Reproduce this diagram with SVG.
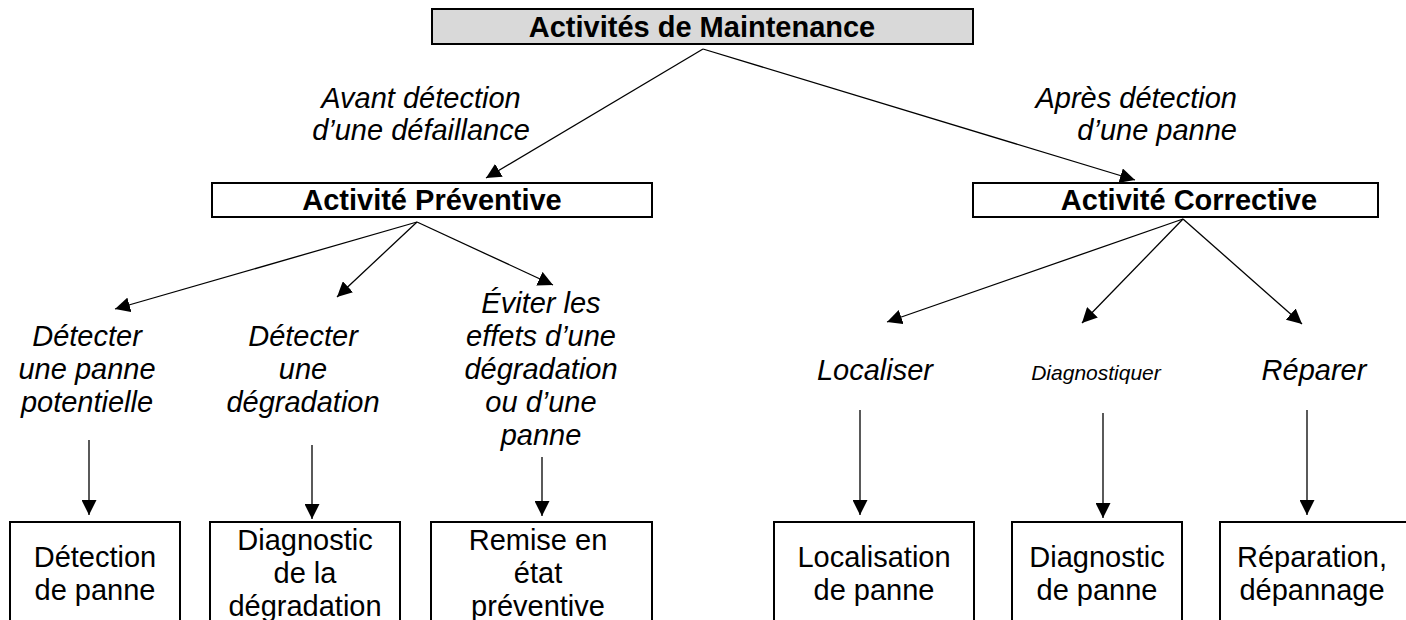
<svg xmlns="http://www.w3.org/2000/svg" width="1406" height="620" viewBox="0 0 1406 620">
<style>
.box{fill:#fff;stroke:#000;stroke-width:2}
.top{fill:#d9d9d9;stroke:#000;stroke-width:2}
.hb{font-family:"Liberation Sans",Arial,sans-serif;font-size:29px;font-weight:bold;text-anchor:middle;fill:#000}
.it{font-family:"Liberation Sans",Arial,sans-serif;font-size:29px;font-style:italic;text-anchor:middle;fill:#000}
.rg{font-family:"Liberation Sans",Arial,sans-serif;font-size:29px;text-anchor:middle;fill:#000}
.con line{stroke:#000;stroke-width:1.3;fill:none;marker-end:url(#ah)}
</style>
<defs>
<marker id="ah" viewBox="0 0 15 15" refX="15" refY="7.5" markerWidth="15" markerHeight="15" markerUnits="userSpaceOnUse" orient="auto">
<path d="M0,0 L15,7.5 L0,15 z" fill="#000"/>
</marker>
</defs>

<g id="connectors" class="con">
<line x1="703" y1="49" x2="486" y2="178"/>
<line x1="703" y1="49" x2="1135" y2="180"/>
<line x1="417" y1="222" x2="115" y2="309"/>
<line x1="417" y1="222" x2="337" y2="297"/>
<line x1="417" y1="222" x2="553" y2="285"/>
<line x1="1183" y1="219" x2="887" y2="322"/>
<line x1="1183" y1="219" x2="1082" y2="323"/>
<line x1="1183" y1="219" x2="1302" y2="324"/>
<line x1="89" y1="440" x2="89" y2="515"/>
<line x1="312" y1="445" x2="312" y2="519"/>
<line x1="542" y1="457" x2="542" y2="516"/>
<line x1="860" y1="410" x2="860" y2="515"/>
<line x1="1103" y1="413" x2="1103" y2="518"/>
<line x1="1307" y1="410" x2="1307" y2="515"/>
</g>

<g id="maintenance">
<rect class="top" x="432" y="9" width="541" height="35"/>
<text class="hb" x="702" y="37">Activités de Maintenance</text>
</g>

<g id="label-avant">
<text class="it" x="421" y="108">Avant détection</text>
<text class="it" x="421" y="140">d’une défaillance</text>
</g>

<g id="label-apres">
<text class="it" x="1237" y="108" style="text-anchor:end">Après détection</text>
<text class="it" x="1237" y="140" style="text-anchor:end">d’une panne</text>
</g>

<g id="preventive">
<rect class="box" x="212" y="183" width="440" height="34"/>
<text class="hb" x="432" y="210">Activité Préventive</text>
</g>

<g id="corrective">
<rect class="box" x="973" y="183" width="405" height="34"/>
<text class="hb" x="1189" y="210">Activité Corrective</text>
</g>

<g id="detecter-panne">
<text class="it" x="87" y="346">Détecter</text>
<text class="it" x="87" y="379">une panne</text>
<text class="it" x="87" y="412">potentielle</text>
</g>

<g id="detecter-degradation">
<text class="it" x="303" y="346">Détecter</text>
<text class="it" x="303" y="379">une</text>
<text class="it" x="303" y="412">dégradation</text>
</g>

<g id="eviter">
<text class="it" x="541" y="313">Éviter les</text>
<text class="it" x="541" y="346">effets d’une</text>
<text class="it" x="541" y="379">dégradation</text>
<text class="it" x="541" y="412">ou d’une</text>
<text class="it" x="541" y="445">panne</text>
</g>

<g id="localiser">
<text class="it" x="875" y="380">Localiser</text>
</g>

<g id="diagnostiquer">
<text class="it" x="1096" y="380" style="font-size:21px">Diagnostiquer</text>
</g>

<g id="reparer">
<text class="it" x="1314" y="380">Réparer</text>
</g>

<g id="detection-panne">
<rect class="box" x="10" y="522" width="170" height="120"/>
<text class="rg" x="95" y="567">Détection</text>
<text class="rg" x="95" y="600">de panne</text>
</g>

<g id="diagnostic-degradation">
<rect class="box" x="210" y="522" width="190" height="120"/>
<text class="rg" x="305" y="550">Diagnostic</text>
<text class="rg" x="305" y="583">de la</text>
<text class="rg" x="305" y="616">dégradation</text>
</g>

<g id="remise-etat">
<rect class="box" x="431" y="522" width="221" height="120"/>
<text class="rg" x="538" y="550">Remise en</text>
<text class="rg" x="538" y="583">état</text>
<text class="rg" x="538" y="616">préventive</text>
</g>

<g id="localisation-panne">
<rect class="box" x="774" y="522" width="200" height="120"/>
<text class="rg" x="874" y="567">Localisation</text>
<text class="rg" x="874" y="600">de panne</text>
</g>

<g id="diagnostic-panne">
<rect class="box" x="1012" y="522" width="170" height="120"/>
<text class="rg" x="1097" y="567">Diagnostic</text>
<text class="rg" x="1097" y="600">de panne</text>
</g>

<g id="reparation">
<rect class="box" x="1220" y="522" width="200" height="120"/>
<text class="rg" x="1312" y="567">Réparation,</text>
<text class="rg" x="1312" y="600">dépannage</text>
</g>
</svg>
